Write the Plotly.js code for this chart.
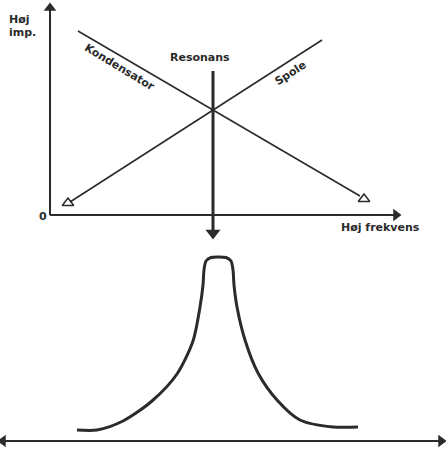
<!DOCTYPE html>
<html><head><meta charset="utf-8">
<script src="https://cdn.plot.ly/plotly-3.0.1.min.js"></script>
<style>html,body{margin:0;padding:0;background:#fff}#c{width:446px;height:451px}</style>
</head><body><div id="c"></div>
<script>
// Upper diagram (impedance vs frequency), picture units
const yAxisX = [50, 50];
const yAxisY = [215, 8];
const xAxisX = [50, 396];
const xAxisY = [215, 215];
const kondX = [78, 360];
const kondY = [31, 196];
const spoleX = [70, 322];
const spoleY = [202, 40];
const resX = [213, 213];
const resY = [71, 233];
// Lower diagram: resonance curve
const curveX = [77, 97, 123, 152, 177, 193, 200, 203, 204, 206, 211, 218, 226, 231, 233, 234, 237, 245, 258, 277, 300, 333, 358];
const curveY = [430, 430, 421, 401, 374, 341, 307, 285, 270, 261, 257.5, 257, 257.5, 261, 270, 285, 307, 340, 373, 400, 420, 427, 427];
const baseX = [3, 441];
const baseY = [441, 441];
// Labels
const labels = [
  {t: "Høj", x: 7, y: 19, a: 0, xa: "left"},
  {t: "imp.", x: 7, y: 32, a: 0, xa: "left"},
  {t: "0", x: 43, y: 216, a: 0, xa: "center"},
  {t: "Resonans", x: 200, y: 57, a: 0, xa: "center"},
  {t: "Kondensator", x: 120, y: 67, a: 31, xa: "center"},
  {t: "Spole", x: 290, y: 73, a: -33, xa: "center"},
  {t: "Høj frekvens", x: 380, y: 227, a: 0, xa: "center"}
];

const ink = "#2b2b2b";
const traces = [
  {x: yAxisX, y: yAxisY, mode: "lines", line: {color: ink, width: 2}},
  {x: [yAxisX[1]], y: [yAxisY[1]], mode: "markers", marker: {symbol: "triangle-up", size: 11, color: ink}},
  {x: xAxisX, y: xAxisY, mode: "lines", line: {color: ink, width: 2}},
  {x: [xAxisX[1]], y: [xAxisY[1]], mode: "markers", marker: {symbol: "triangle-right", size: 11, color: ink}},
  {x: kondX, y: kondY, mode: "lines", line: {color: ink, width: 1.6}},
  {x: [kondX[1] + 4], y: [kondY[1] + 3], mode: "markers", marker: {symbol: "triangle-up-open", size: 10, color: ink, line: {width: 1.5, color: ink}}},
  {x: spoleX, y: spoleY, mode: "lines", line: {color: ink, width: 1.6}},
  {x: [spoleX[0] - 2], y: [spoleY[0] + 1], mode: "markers", marker: {symbol: "triangle-up-open", size: 10, color: ink, line: {width: 1.5, color: ink}}},
  {x: resX, y: resY, mode: "lines", line: {color: ink, width: 3}},
  {x: [resX[1]], y: [resY[1]], mode: "markers", marker: {symbol: "triangle-down", size: 13, color: ink}},
  {x: curveX, y: curveY, mode: "lines", line: {color: ink, width: 3, shape: "spline", smoothing: 0.8}},
  {x: baseX, y: baseY, mode: "lines", line: {color: ink, width: 2}},
  {x: [baseX[0]], y: [baseY[0]], mode: "markers", marker: {symbol: "triangle-left", size: 11, color: ink}},
  {x: [baseX[1]], y: [baseY[1]], mode: "markers", marker: {symbol: "triangle-right", size: 11, color: ink}}
];

const layout = {
  width: 446, height: 451,
  margin: {l: 0, r: 0, t: 0, b: 0},
  paper_bgcolor: "#fff", plot_bgcolor: "#fff",
  showlegend: false,
  xaxis: {range: [0, 446], visible: false, fixedrange: true},
  yaxis: {range: [451, 0], visible: false, fixedrange: true},
  annotations: labels.map(l => ({
    text: l.t, x: l.x, y: l.y, xref: "x", yref: "y", showarrow: false,
    textangle: l.a, xanchor: l.xa, yanchor: "middle",
    font: {family: "DejaVu Sans, sans-serif", size: 11, color: ink, weight: "bold"}
  }))
};
Plotly.newPlot("c", traces, layout, {staticPlot: true, displayModeBar: false});
</script></body></html>
